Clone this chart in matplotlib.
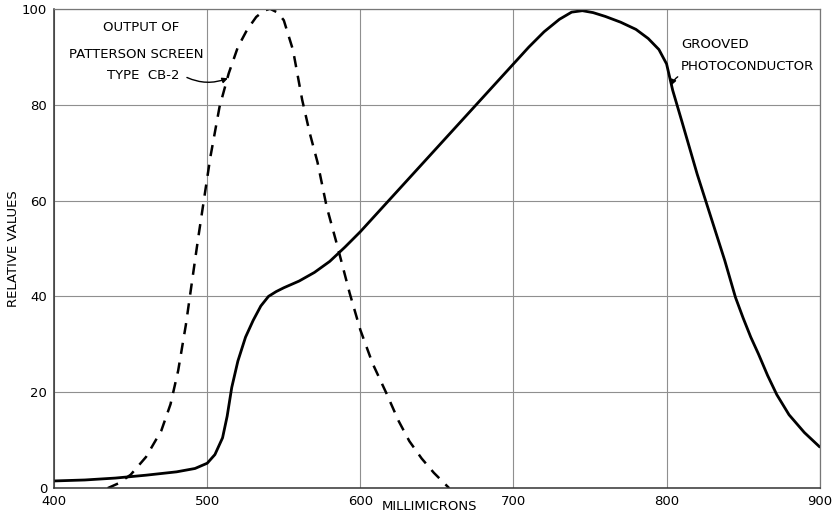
import matplotlib
matplotlib.use("Agg")
import matplotlib.pyplot as plt

# ── Data ────────────────────────────────────────────────────────────
# Grooved photoconductor (solid)
groove_x = [400, 420, 440, 460, 480, 492, 500, 505, 510, 513, 516, 520, 525, 530,
            535, 540, 545, 550, 560, 570, 580, 590, 600, 620, 640, 660, 680, 700,
            710, 720, 730, 738, 745, 752, 760, 770, 780, 788, 795, 800, 804, 810,
            820, 830, 838, 845, 850, 855, 860, 866, 872, 880, 890, 900]
groove_y = [1.5, 1.7, 2.1, 2.7, 3.4, 4.1, 5.2, 7.0, 10.5, 15.0, 21.0, 26.5, 31.5, 35.0,
            38.0, 40.0, 41.0, 41.8, 43.2, 45.0, 47.3, 50.3, 53.5, 60.5, 67.5, 74.5, 81.5, 88.5,
            92.0, 95.2, 97.8, 99.3, 99.6, 99.2, 98.4, 97.2, 95.7, 93.8, 91.5, 88.5, 83.0, 76.5,
            65.5, 55.5, 47.5, 39.8, 35.5, 31.5, 28.0, 23.5, 19.5, 15.3, 11.6, 8.6]

# Output of Patterson screen type CB-2 (dashed)
screen_x = [435, 442, 450, 460, 470, 476, 481, 486, 490, 494, 498, 502, 508, 514, 520,
            526, 532, 537, 541, 546, 550, 556, 562, 567, 572, 578, 585, 593, 600,
            608, 617, 625, 632, 640, 648, 658]
screen_y = [0.0, 1.0, 2.8, 6.5, 12.0, 17.5, 24.5, 34.0, 43.0, 52.0, 60.5, 69.0, 79.5, 86.5, 92.0,
            95.6, 98.3, 99.6, 100.0, 99.2, 97.6, 91.4, 81.0, 74.0, 68.0, 58.7, 50.5, 40.7, 33.0,
            26.0, 19.8, 14.0, 9.8, 6.2, 3.2, 0.0]

x_ticks = [400, 500, 600, 700, 800, 900]
y_ticks = [0, 20, 40, 60, 80, 100]

# ── Plot ────────────────────────────────────────────────────────────
plt.rcParams["font.family"] = "DejaVu Sans"
FS = 9.5

fig = plt.figure(figsize=(8.33, 5.16), dpi=100)
ax = fig.add_axes([0.065, 0.054, 0.919, 0.929])

ax.plot(groove_x, groove_y, color="black", lw=2.0, solid_capstyle="round")
ax.plot(screen_x, screen_y, color="black", lw=1.8, linestyle=(0, (4.5, 3.5)))

ax.set_xlim(400, 900)
ax.set_ylim(0, 100)
ax.set_xticks(x_ticks)
ax.set_yticks(y_ticks)
ax.tick_params(length=0, labelsize=FS, pad=5)
ax.grid(color="#8f8f8f", lw=0.8)
for side in ["top", "right"]:
    ax.spines[side].set_color("#777777")
    ax.spines[side].set_linewidth(0.9)
for side in ["left", "bottom"]:
    ax.spines[side].set_color("#333333")
    ax.spines[side].set_linewidth(1.1)

ax.set_ylabel("RELATIVE VALUES", fontsize=FS)
ax.yaxis.set_label_coords(-0.044, 0.5)
fig.text(0.458, 0.019, "MILLIMICRONS", fontsize=FS, ha="left", va="center")

ax.text(457, 96, "OUTPUT OF", fontsize=FS, ha="center", va="center")
ax.text(453.5, 90.4, "PATTERSON SCREEN", fontsize=FS, ha="center", va="center")
ax.annotate("TYPE  CB-2", xy=(513.5, 85.5), xytext=(458, 86),
            fontsize=FS, ha="center", va="center",
            arrowprops=dict(arrowstyle="-|>", color="black", lw=1.0,
                            connectionstyle="arc3,rad=0.25", shrinkA=4, shrinkB=0,
                            mutation_scale=8, relpos=(1.0, 0.7)))

ax.text(809.5, 92.5, "GROOVED", fontsize=FS, ha="left", va="center")
ax.annotate("PHOTOCONDUCTOR", xy=(803, 84), xytext=(809.5, 87.9),
            fontsize=FS, ha="left", va="center",
            arrowprops=dict(arrowstyle="-|>", color="black", lw=1.0,
                            connectionstyle="arc3,rad=0.3", shrinkA=1, shrinkB=0,
                            mutation_scale=8, relpos=(0.05, 0.0)))

fig.savefig("out.png", dpi=100)
